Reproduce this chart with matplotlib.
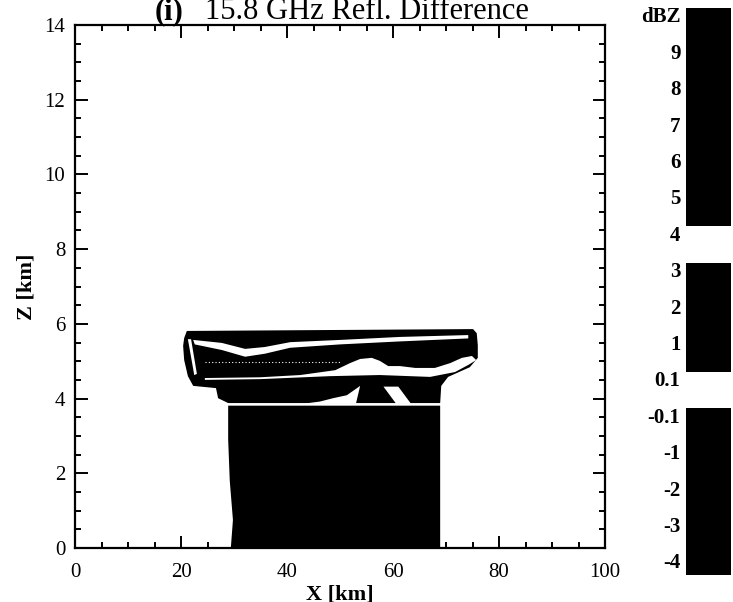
import numpy as np
import matplotlib
matplotlib.use('Agg')
import matplotlib.pyplot as plt
from matplotlib.colors import ListedColormap, BoundaryNorm
from matplotlib.ticker import MultipleLocator

plt.rcParams['font.family'] = ['Liberation Serif', 'DejaVu Serif']

# colour table: dBZ band edges, labels and shade of each band
levels = [-4, -3, -2, -1, -0.1, 0.1, 1, 2, 3, 4, 5, 6, 7, 8, 9, 10]
level_labels = ['-4', '-3', '-2', '-1', '-0.1', '0.1', '1', '2', '3', '4',
                '5', '6', '7', '8', '9', 'dBZ']
band_colors = ['black'] * 4 + ['white'] + ['black'] * 3 + ['white'] + ['black'] * 6

# reflectivity difference regions (x [km], z [km], dBZ)
column_x = [28.9, 68.9, 68.9, 29.4, 29.8, 29.2, 28.9]
column_z = [3.81, 3.81, 0.0, 0.0, 0.75, 1.8, 2.9]
column_dbz = 6.0

cap_x = [21.1, 75.1, 75.8, 76.0, 76.0, 74.5, 70.4, 69.1, 68.9, 28.9,
         27.0, 26.6, 22.3, 21.3, 20.6, 20.4, 20.6]
cap_z = [5.81, 5.86, 5.75, 5.43, 5.09, 4.84, 4.58, 4.34, 3.88, 3.88,
         4.01, 4.28, 4.34, 4.60, 5.03, 5.41, 5.62]
cap_dbz = 5.0

upper_x = [22.3, 27.7, 32.1, 35.8, 40.6, 50.0, 61.3, 74.2,
           74.2, 61.3, 50.0, 40.6, 35.8, 32.1, 27.7, 22.6]
upper_z = [5.57, 5.49, 5.33, 5.38, 5.51, 5.57, 5.65, 5.70,
           5.61, 5.53, 5.45, 5.36, 5.20, 5.12, 5.30, 5.45]
upper_dbz = 0.0

lower_x = [24.5, 34.9, 48.1, 57.5, 67.0, 71.7, 74.2, 75.7,
           74.9, 73.0, 70.8, 67.9, 64.2, 61.3, 59.1, 57.5, 56.0, 53.8,
           51.9, 49.1, 42.5, 34.9, 24.5]
lower_z = [4.50, 4.52, 4.60, 4.63, 4.58, 4.71, 4.90, 5.03,
           5.14, 5.09, 4.95, 4.82, 4.82, 4.87, 4.87, 5.01, 5.09, 5.06,
           4.95, 4.76, 4.63, 4.57, 4.55]
lower_dbz = 0.0

edge_x = [21.3, 21.9, 23.0, 22.5]
edge_z = [5.59, 5.59, 4.66, 4.63]
edge_dbz = 0.0

gap1_x = [43.0, 46.2, 48.7, 51.3, 53.2, 53.8, 53.0]
gap1_z = [3.86, 3.92, 4.01, 4.09, 4.28, 4.34, 3.86]
gap1_dbz = 0.0

gap2_x = [58.2, 61.0, 63.4, 60.6]
gap2_z = [4.32, 4.32, 3.86, 3.86]
gap2_dbz = 0.0

seam_x = [24.5, 50.0]
seam_z = [4.98, 4.98]

cmap = ListedColormap(band_colors)
cmap.set_under('black')
norm = BoundaryNorm(levels, cmap.N)

fig = plt.figure(figsize=(7.33, 6.02), dpi=100)
W, H = 733.0, 602.0
ax = fig.add_axes([75 / W, 1 - 548 / H, 530 / W, 523 / H])

regions = [(column_x, column_z, column_dbz), (cap_x, cap_z, cap_dbz),
           (upper_x, upper_z, upper_dbz), (lower_x, lower_z, lower_dbz),
           (edge_x, edge_z, edge_dbz), (gap1_x, gap1_z, gap1_dbz),
           (gap2_x, gap2_z, gap2_dbz)]
for xs, zs, val in regions:
    ax.fill(xs, zs, color=cmap(norm(val)), lw=0)
ax.plot(seam_x, seam_z, color='white', lw=0.8, ls=(0, (1, 2)))

ax.set_xlim(0, 100)
ax.set_ylim(0, 14)
ax.xaxis.set_major_locator(MultipleLocator(20))
ax.xaxis.set_minor_locator(MultipleLocator(5))
ax.yaxis.set_major_locator(MultipleLocator(2))
ax.yaxis.set_minor_locator(MultipleLocator(0.5))
ax.tick_params(which='both', direction='in', top=True, right=True,
               width=1.4, labelsize=15)
ax.tick_params(which='major', length=9)
ax.tick_params(which='minor', length=4.5)
ax.tick_params(axis='x', pad=11)
ax.tick_params(axis='y', pad=7)
for s in ax.spines.values():
    s.set_linewidth(1.6)

fig.text(340 / W, 1 - 594 / H, 'X [km]', ha='center', va='center',
         fontsize=16, fontweight='bold')
fig.text(26 / W, 1 - 287 / H, 'Z [km]', ha='center', va='center',
         rotation=90, fontsize=16, fontweight='bold')

fig.text(155 / W, 1 - 19 / H, '(i)', ha='left', va='baseline',
         fontsize=22, fontweight='bold')
fig.text(205 / W, 1 - 19 / H, '15.8 GHz Refl. Difference', ha='left',
         va='baseline', fontsize=22)

# colour bar
cax = fig.add_axes([686 / W, 1 - 575 / H, 45 / W, 567 / H])
idx = np.arange(len(levels))
edges = np.concatenate([[-0.58], idx])
mids = [levels[0] - 1] + [(levels[i] + levels[i + 1]) / 2 for i in range(len(levels) - 1)]
cax.pcolormesh([0, 1], edges, np.array(mids).reshape(-1, 1), cmap=cmap, norm=norm)
cax.set_xlim(0, 1)
cax.set_ylim(-0.58, idx[-1])
cax.set_xticks([])
cax.set_yticks(idx - 0.19)
cax.set_yticklabels(level_labels, fontsize=15, fontweight='bold')
cax.tick_params(axis='y', length=0, pad=4)
for s in cax.spines.values():
    s.set_visible(False)

fig.savefig('out.png', dpi=100)
